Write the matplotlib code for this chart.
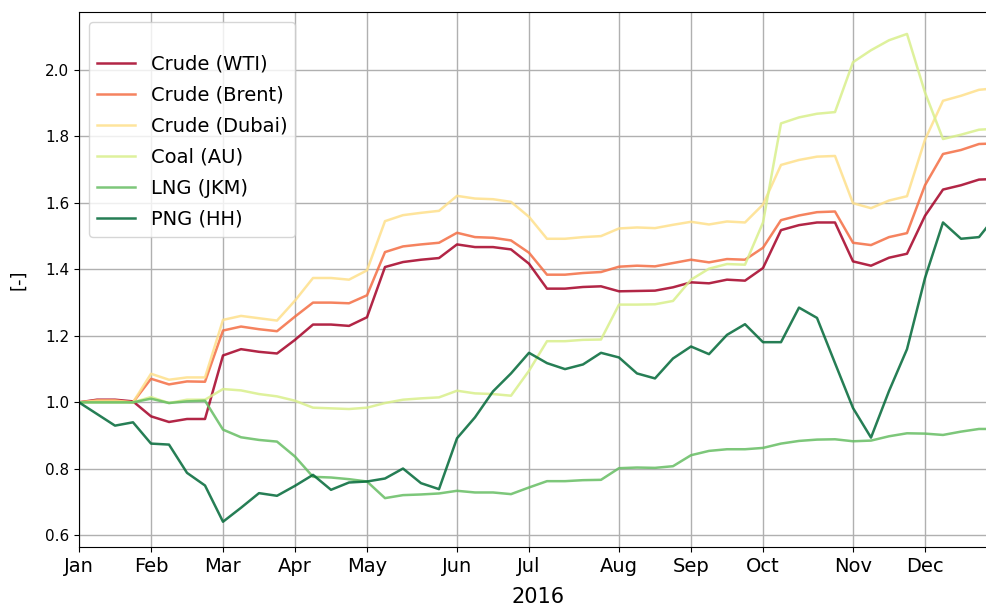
import numpy as np
import pandas as pd
import matplotlib
matplotlib.use('Agg')
from matplotlib import pyplot as plt

# weekly observations, normalised to the first week of 2016
weeks = pd.date_range('2016-01-04', periods=52, freq='W-MON')

labels = ['Crude (WTI)', 'Crude (Brent)', 'Crude (Dubai)', 'Coal (AU)', 'LNG (JKM)', 'PNG (HH)']

wti = [1.000, 1.008, 1.008, 1.003, 0.958, 0.941, 0.950, 0.950, 1.141, 1.160, 1.152,
       1.147, 1.188, 1.234, 1.234, 1.230, 1.256, 1.407, 1.422, 1.429, 1.434,
       1.475, 1.467, 1.467, 1.460, 1.417, 1.342, 1.342, 1.347, 1.349, 1.334,
       1.335, 1.336, 1.346, 1.361, 1.358, 1.369, 1.366, 1.404, 1.518, 1.533,
       1.541, 1.541, 1.424, 1.411, 1.435, 1.447, 1.561, 1.640, 1.653, 1.670, 1.672]
brent = [1.000, 1.006, 1.006, 1.000, 1.071, 1.054, 1.063, 1.062, 1.216, 1.228, 1.220,
         1.214, 1.258, 1.300, 1.300, 1.298, 1.322, 1.452, 1.469, 1.475, 1.480,
         1.510, 1.497, 1.495, 1.487, 1.450, 1.384, 1.384, 1.389, 1.392, 1.408,
         1.411, 1.409, 1.419, 1.429, 1.421, 1.431, 1.429, 1.465, 1.548, 1.562,
         1.572, 1.574, 1.480, 1.473, 1.497, 1.509, 1.653, 1.747, 1.759, 1.777, 1.779]
dubai = [1.000, 1.005, 1.005, 1.000, 1.086, 1.068, 1.075, 1.075, 1.248, 1.260, 1.253,
         1.246, 1.306, 1.374, 1.374, 1.369, 1.397, 1.545, 1.563, 1.570, 1.576,
         1.621, 1.613, 1.611, 1.603, 1.558, 1.492, 1.492, 1.497, 1.500, 1.523,
         1.526, 1.524, 1.534, 1.543, 1.535, 1.544, 1.541, 1.595, 1.714, 1.729,
         1.739, 1.741, 1.599, 1.584, 1.607, 1.620, 1.790, 1.907, 1.922, 1.940, 1.945]
coal = [1.000, 1.000, 1.000, 1.000, 1.016, 0.998, 1.008, 1.008, 1.040, 1.036, 1.025,
        1.018, 1.005, 0.984, 0.982, 0.980, 0.984, 0.998, 1.008, 1.012, 1.015,
        1.035, 1.027, 1.025, 1.020, 1.095, 1.184, 1.184, 1.188, 1.189, 1.294,
        1.294, 1.295, 1.305, 1.369, 1.402, 1.416, 1.414, 1.541, 1.839, 1.857,
        1.868, 1.873, 2.023, 2.059, 2.089, 2.108, 1.932, 1.792, 1.805, 1.820, 1.823]
lng = [1.000, 1.000, 1.000, 1.000, 1.011, 0.998, 1.003, 1.005, 0.918, 0.895, 0.887,
       0.882, 0.837, 0.776, 0.774, 0.769, 0.762, 0.712, 0.721, 0.723, 0.726,
       0.734, 0.729, 0.729, 0.724, 0.744, 0.763, 0.763, 0.766, 0.767, 0.802,
       0.804, 0.803, 0.808, 0.841, 0.854, 0.859, 0.859, 0.863, 0.876, 0.884,
       0.888, 0.889, 0.883, 0.885, 0.898, 0.907, 0.906, 0.902, 0.912, 0.920, 0.920]
png = [1.000, 0.965, 0.930, 0.940, 0.876, 0.873, 0.788, 0.750, 0.641, 0.683, 0.727,
       0.719, 0.749, 0.782, 0.737, 0.759, 0.762, 0.771, 0.801, 0.757, 0.739,
       0.892, 0.955, 1.033, 1.087, 1.149, 1.118, 1.100, 1.114, 1.149, 1.135,
       1.087, 1.072, 1.132, 1.168, 1.145, 1.203, 1.235, 1.181, 1.181, 1.285,
       1.254, 1.118, 0.983, 0.894, 1.034, 1.160, 1.374, 1.541, 1.492, 1.497, 1.565]

series = [wti, brent, dubai, coal, lng, png]
colours = plt.cm.RdYlGn(np.linspace(0, 1, len(series)))

fig = plt.figure(figsize=(9.87, 6.08), dpi=100)
# the source image is clipped a little on the right, so the axes run past the edge
ax = fig.add_axes([79 / 987, 1 - 547 / 608, 918 / 987, 535 / 608])

x = np.arange(len(weeks))
for values, label, colour in zip(series, labels, colours):
    ax.plot(x, values, color=colour, lw=1.8, alpha=0.85, label=label)

# month ticks at the week that contains the first of each month (2016 only)
week_end = weeks + pd.Timedelta(days=6)
month_pos = [0] + [i for i in range(1, len(weeks))
                   if week_end[i].month != week_end[i - 1].month and week_end[i].year == 2016]
ax.set_xticks(month_pos)
ax.set_xticklabels([week_end[i].strftime('%b') for i in month_pos], fontsize=14)
ax.set_xlim(0, len(weeks) - 1)
ax.set_ylim(0.565, 2.174)
ax.set_yticks([0.6, 0.8, 1.0, 1.2, 1.4, 1.6, 1.8, 2.0])
ax.tick_params(axis='y', labelsize=11)
ax.grid(True, color='#b0b0b0', lw=1)

ax.set_xlabel('2016', fontsize=15, labelpad=8)
ax.set_ylabel('[-]', fontsize=13, labelpad=13)

ax.legend(loc='upper left', fontsize=14, labelspacing=0.62, title=' ', title_fontsize=9)

fig.savefig('out.png', dpi=100)
